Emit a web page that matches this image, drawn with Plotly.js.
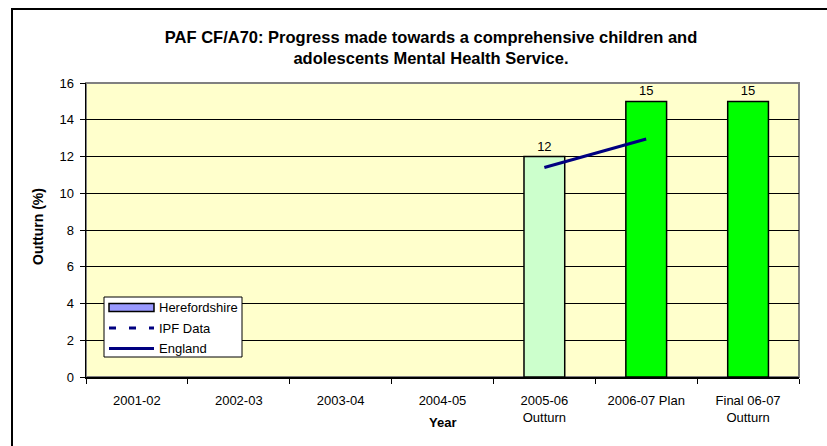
<!DOCTYPE html>
<html>
<head>
<meta charset="utf-8">
<script src="https://cdn.plot.ly/plotly-3.0.1.min.js"></script>
<style>html,body{margin:0;padding:0;background:#fff;}#chart{width:827px;height:446px;}</style>
</head>
<body>
<div id="chart"></div>
<script>
var categories = ["2001-02","2002-03","2003-04","2004-05","2005-06<br>Outturn","2006-07 Plan","Final 06-07<br>Outturn"];
var herefordshire = [null,null,null,null,12,15,15];
var barColors = ["#9999FF","#9999FF","#9999FF","#9999FF","#CCFFCC","#00FF00","#00FF00"];
var barLabels = ["","","","","12","15","15"];
var ipfData = [null,null,null,null,null,null,null];
var england = [null,null,null,null,11.4,12.95,null];
var yTicks = [0,2,4,6,8,10,12,14,16];
var legendNames = ["Herefordshire","IPF Data","England"];
var legendColor = "#9999FF";

var W = 827, H = 446;
var L = 86, R = 799, T = 83, B = 377;
function px(x){ return (x - L) / (R - L); }
function py(y){ return (B - y) / (B - T); }

var FONT = "Arial, Liberation Sans, sans-serif";

var traces = [
  {type:"bar", name:legendNames[0], x:categories, y:herefordshire,
   marker:{color:barColors, line:{color:"#000000", width:1.5}},
   text:barLabels, textposition:"outside", cliponaxis:false,
   textfont:{family:FONT, size:13, color:"#000"}, hoverinfo:"none", showlegend:false},
  {type:"scatter", mode:"lines", name:legendNames[1], x:categories, y:ipfData,
   line:{color:"#000080", width:3, dash:"dash"}, showlegend:false},
  {type:"scatter", mode:"lines", name:legendNames[2], x:categories, y:england,
   line:{color:"#000080", width:3}, showlegend:false}
];

var rowY = [307.5, 328, 348.5];
var shapes = [
  {type:"rect", xref:"paper", yref:"paper", x0:0, x1:1, y0:0, y1:1,
   line:{color:"#808080", width:2}, layer:"below"},
  {type:"rect", xref:"paper", yref:"paper", x0:px(12), x1:px(845), y0:py(460), y1:py(9),
   line:{color:"#000", width:2}},
  {type:"rect", xref:"paper", yref:"paper", x0:px(104), x1:px(242), y0:py(357), y1:py(297),
   line:{color:"#000", width:1}, fillcolor:"#ffffff"},
  {type:"rect", xref:"paper", yref:"paper", x0:px(109), x1:px(154), y0:py(rowY[0]+4), y1:py(rowY[0]-4),
   line:{color:"#000", width:1.5}, fillcolor:legendColor},
  {type:"line", xref:"paper", yref:"paper", x0:px(109), x1:px(154), y0:py(rowY[1]), y1:py(rowY[1]),
   line:{color:"#000080", width:3, dash:"7px,13px"}},
  {type:"line", xref:"paper", yref:"paper", x0:px(109), x1:px(154), y0:py(rowY[2]), y1:py(rowY[2]),
   line:{color:"#000080", width:3}}
];

var annotations = [
  {text:"<b>Year</b>", xref:"paper", yref:"paper", x:px(442), y:py(422), xanchor:"center", yanchor:"middle",
   showarrow:false, font:{family:FONT, size:13, color:"#000"}},
  {text:"<b>Outturn (%)</b>", xref:"paper", yref:"paper", x:px(38), y:py(227), xanchor:"center", yanchor:"middle",
   textangle:-90, showarrow:false, font:{family:FONT, size:14, color:"#000"}}
];
for (var i = 0; i < legendNames.length; i++) {
  annotations.push({text:legendNames[i], xref:"paper", yref:"paper", x:px(157), y:py(rowY[i]),
    xanchor:"left", yanchor:"middle", showarrow:false, font:{family:FONT, size:13, color:"#000"}});
}

var layout = {
  width:W, height:H,
  margin:{l:L, r:W-R, t:T, b:H-B},
  paper_bgcolor:"#ffffff", plot_bgcolor:"#FFFFCC",
  font:{family:FONT, size:13, color:"#000"},
  title:{text:"<b>PAF CF/A70: Progress made towards a comprehensive children and<br>adolescents Mental Health Service.</b>",
         x:431/827, xref:"container", xanchor:"center", y:1-42.5/446, yref:"container", yanchor:"middle",
         font:{family:FONT, size:16.5, color:"#000"}},
  bargap:0.6,
  showlegend:false,
  xaxis:{type:"category", showline:true, linecolor:"#000", linewidth:1.5, ticks:"outside",
         tickson:"boundaries", ticklen:5, tickcolor:"#000", showgrid:false,
         tickfont:{size:13}, ticklabelstandoff:11},
  yaxis:{range:[0,16], tickvals:yTicks, ticks:"outside", ticklen:5, tickcolor:"#000",
         showline:true, linecolor:"#000", linewidth:1.5, showgrid:true, gridcolor:"#000", gridwidth:1,
         zeroline:false, tickfont:{size:13}, ticklabelstandoff:3},
  shapes:shapes,
  annotations:annotations
};
Plotly.newPlot("chart", traces, layout, {staticPlot:true});
</script>
</body>
</html>
